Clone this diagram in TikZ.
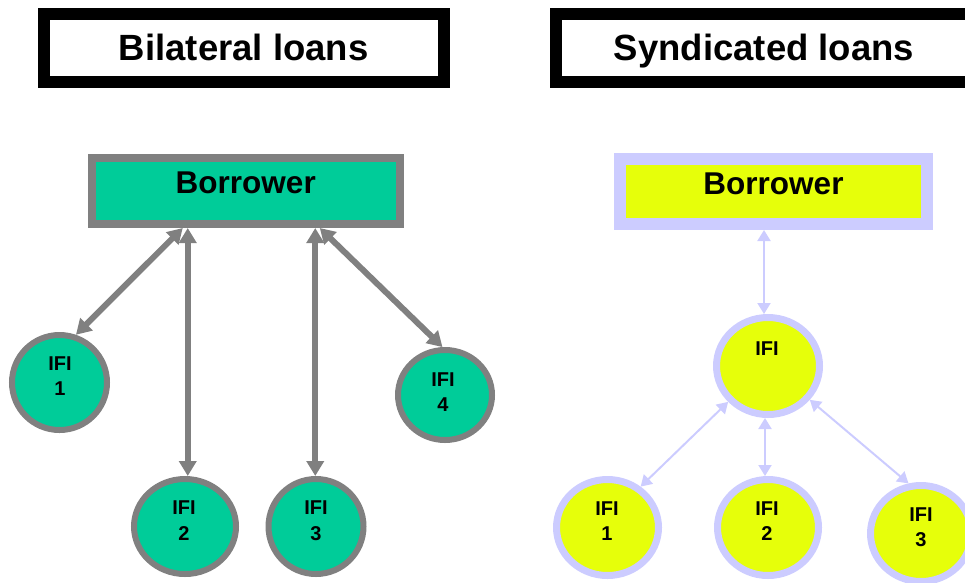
\documentclass[tikz,border=0pt]{standalone}
\usepackage{fontspec}
\setmainfont{Liberation Sans}
\usetikzlibrary{arrows.meta,shapes.geometric}
\definecolor{lgreen}{HTML}{00CC99}
\definecolor{lgray}{HTML}{808080}
\definecolor{syel}{RGB}{230,255,10}
\definecolor{slav}{HTML}{CCCCFF}
\tikzset{
  titlebox/.style={rectangle, draw=black, line width=12pt, fill=white, inner sep=0pt,
    font=\fontsize{36.5}{44}\selectfont\bfseries, text height=26pt, text depth=0pt},
  lbox/.style={rectangle, draw=lgray, line width=8pt, fill=lgreen, inner sep=0pt,
    font=\fontsize{31.5}{38}\selectfont\bfseries},
  rbox/.style={rectangle, draw=slav, line width=12pt, fill=syel, inner sep=0pt,
    font=\fontsize{31.5}{38}\selectfont\bfseries},
  lcirc/.style={ellipse, draw=lgray, line width=6pt, fill=lgreen, inner sep=0pt},
  rcirc/.style={ellipse, draw=slav, line width=7pt, fill=syel, inner sep=0pt},
  ifitext/.style={font=\fontsize{20}{25.5}\selectfont\bfseries, align=center, inner sep=0pt},
  larrow/.style={draw=lgray, line width=6pt,
    {Triangle[length=15pt,width=17pt]}-{Triangle[length=15pt,width=17pt]}},
  rarrow/.style={draw=slav, line width=2pt,
    {Triangle[length=11pt,width=13pt]}-{Triangle[length=11pt,width=13pt]}}
}
\begin{document}
\begin{tikzpicture}[x=1pt,y=-1pt]
\useasboundingbox (0,0) rectangle (965,582);
\clip (0,0) rectangle (965,582);
% titles
\node[titlebox, minimum width=399.5pt, minimum height=67.5pt] (tl) at (243.75,47.75) {Bilateral loans};
\node[titlebox, minimum width=416pt, minimum height=67.5pt] (tr) at (764,47.75) {Syndicated loans};
% left side
\node[lbox, minimum width=308.5pt, minimum height=66pt, text height=10pt, text depth=5.4pt] (bl) at (245.75,191) {Borrower};
\node[lcirc, minimum width=95pt, minimum height=95pt] (c1) at (59.5,382.5) {};
\node[lcirc, minimum width=102pt, minimum height=95pt] (c2) at (185,526.5) {};
\node[lcirc, minimum width=95pt, minimum height=95pt] (c3) at (316,526.5) {};
\node[lcirc, minimum width=94pt, minimum height=90pt] (c4) at (445,395) {};
\node[ifitext] (c1t) at (60,376) {IFI\\1};
\node[ifitext] (c2t) at (184,520.5) {IFI\\2};
\node[ifitext] (c3t) at (316,520.5) {IFI\\3};
\node[ifitext] (c4t) at (443,392) {IFI\\4};
\coordinate (a1) at ([xshift=-63pt]bl.south);
\coordinate (a2) at ([xshift=-58pt]bl.south);
\coordinate (a3) at ([xshift=69.5pt]bl.south);
\coordinate (a4) at ([xshift=74pt]bl.south);
\draw[larrow] (a1) -- (c1.71);
\draw[larrow] (a2) -- (a2 |- c2.north);
\draw[larrow] (a3) -- (a3 |- c3.north);
\draw[larrow] (a4) -- (c4.93);
% right side
\node[rbox, minimum width=307pt, minimum height=65pt, text height=10pt, text depth=4.4pt] (br) at (773.5,191.5) {Borrower};
\node[rcirc, minimum width=103pt, minimum height=97pt] (ci) at (768,366) {};
\node[rcirc, minimum width=102pt, minimum height=96pt] (d1) at (607.5,527.5) {};
\node[rcirc, minimum width=101pt, minimum height=96pt] (d2) at (768,527.5) {};
\node[rcirc, minimum width=101pt, minimum height=96pt] (d3) at (921,533.5) {};
\node[ifitext] (cit) at (767,349) {IFI};
\node[ifitext] (d1t) at (607,521) {IFI\\1};
\node[ifitext] (d2t) at (767,521) {IFI\\2};
\node[ifitext] (d3t) at (921,527) {IFI\\3};
\coordinate (r0) at ([xshift=-9.5pt]br.south);
\coordinate (r2) at ([xshift=-3pt]ci.south);
\draw[rarrow] (r0) -- (r0 |- ci.north);
\draw[rarrow] (ci.222) -- (d1.51);
\draw[rarrow] (r2) -- (r2 |- d2.north);
\draw[rarrow] (ci.-39) -- (d3.104);
\end{tikzpicture}
\end{document}
